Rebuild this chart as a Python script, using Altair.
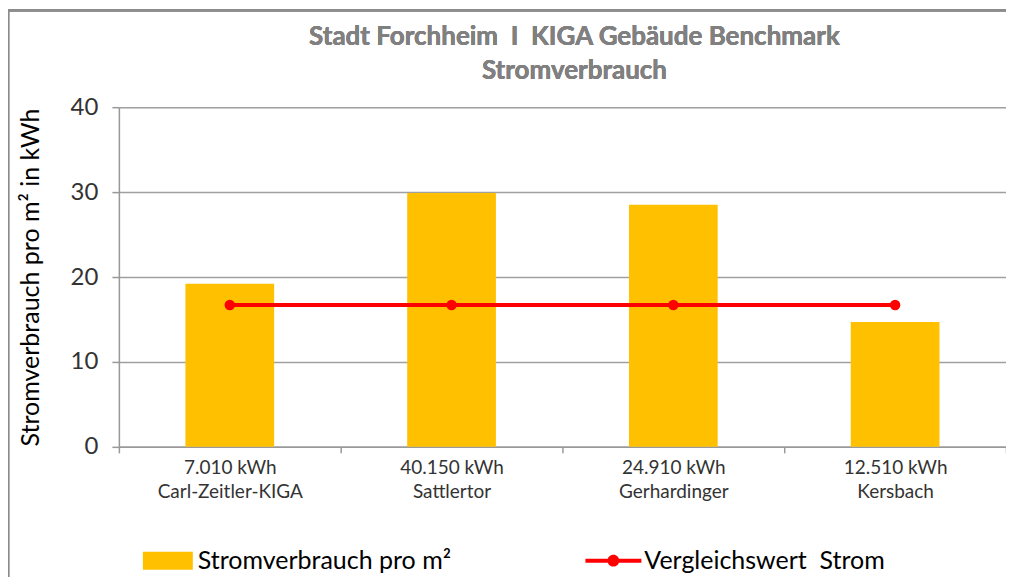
import altair as alt
import pandas as pd

categories = ["Carl-Zeitler-KIGA", "Sattlertor", "Gerhardinger", "Kersbach"]
kwh_labels = ["7.010 kWh", "40.150 kWh", "24.910 kWh", "12.510 kWh"]
verbrauch_pro_m2 = [19.2, 29.9, 28.5, 14.7]
vergleichswert = [16.7, 16.7, 16.7, 16.7]
y_ticks = [0, 10, 20, 30, 40]
title_lines = ["Stadt Forchheim\u00a0 I \u00a0KIGA Gebäude Benchmark", "Stromverbrauch"]
series_names = ["Stromverbrauch pro m²", "Vergleichswert\u00a0 Strom"]

FONT = "Lato"

df = pd.DataFrame({
    "cat": [f"{k}|{c}" for k, c in zip(kwh_labels, categories)],
    "wert": verbrauch_pro_m2,
    "vergleich": vergleichswert,
})

order = list(df["cat"])

x_enc = alt.X(
    "cat:N",
    sort=order,
    scale=alt.Scale(paddingInner=0, paddingOuter=0),
    axis=alt.Axis(
        title=None,
        labelExpr="split(datum.label, '|')",
        labelFontSize=19,
        labelLineHeight=24,
        labelColor="#333333",
        labelFont=FONT,
        labelAngle=0,
        labelPadding=6,
        tickBand="extent",
        tickSize=6,
        tickColor="#999999",
        tickWidth=1.5,
        domainColor="#999999",
        domainWidth=1.5,
        grid=False,
    ),
)

bars = alt.Chart(df).transform_calculate(
    series=f"'{series_names[0]}'"
).mark_bar(width=alt.RelativeBandSize(0.4)).encode(
    x=x_enc,
    y=alt.Y(
        "wert:Q",
        scale=alt.Scale(domain=[0, 40]),
        axis=alt.Axis(
            values=y_ticks,
            title="Stromverbrauch pro m² in kWh",
            titleFontSize=25,
            titleFontWeight="normal",
            titleColor="#000000",
            titleFont=FONT,
            titlePadding=27,
            labelFontSize=24,
            labelColor="#333333",
            labelFont=FONT,
            labelPadding=14,
            tickSize=7,
            tickColor="#999999",
            tickWidth=1.5,
            domainColor="#999999",
            domainWidth=1.5,
            gridColor="#a0a0a0",
            gridWidth=1.5,
        ),
    ),
    color=alt.Color(
        "series:N",
        scale=alt.Scale(domain=[series_names[0]], range=["#FFC000"]),
        legend=alt.Legend(
            orient="none",
            legendX=24,
            legendY=429,
            title=None,
            symbolType="M-1,-0.36L1,-0.36L1,0.36L-1,0.36Z",
            symbolSize=2500,
            symbolStrokeWidth=0,
            labelFontSize=25,
            labelFont=FONT,
            labelColor="#000000",
            labelOffset=5,
            labelLimit=0,
            padding=0,
        ),
    ),
)

line = alt.Chart(df).transform_calculate(
    series=f"'{series_names[1]}'"
).mark_line(strokeWidth=4).encode(
    x=alt.X("cat:N", sort=order),
    y=alt.Y("vergleich:Q"),
    color=alt.Color(
        "series:N",
        scale=alt.Scale(domain=[series_names[1]], range=["#FF0000"]),
        legend=alt.Legend(
            orient="none",
            legendX=467,
            legendY=426,
            title=None,
            symbolType="M-1,-0.07L1,-0.07L1,0.07L-1,0.07Z M-0.21,0A0.21,0.21 0 1,1 0.21,0A0.21,0.21 0 1,1 -0.21,0Z",
            symbolSize=3136,
            symbolFillColor="#FF0000",
            symbolStrokeWidth=0,
            labelFontSize=25,
            labelFont=FONT,
            labelColor="#000000",
            labelOffset=3,
            labelLimit=0,
            padding=0,
        ),
    ),
)

points = alt.Chart(df).mark_point(filled=True, size=110, opacity=1, color="#FF0000").encode(
    x=alt.X("cat:N", sort=order),
    y=alt.Y("vergleich:Q"),
)

title_style = dict(font=FONT, fontSize=26, fontWeight="bold", color="#808080",
                   baseline="middle", align="center")
title1 = alt.Chart(df).mark_text(**title_style).encode(
    x=alt.value(456), y=alt.value(-70), text=alt.value(title_lines[0])
)
title2 = alt.Chart(df).mark_text(**title_style).encode(
    x=alt.value(456), y=alt.value(-36), text=alt.value(title_lines[1])
)

border_left = alt.Chart(df).mark_rule(color="#8c8c8c", strokeWidth=2.5).encode(
    x=alt.value(-111), y=alt.value(-97), y2=alt.value(500)
)
border_top = alt.Chart(df).mark_rule(color="#8c8c8c", strokeWidth=2.5).encode(
    x=alt.value(-112), x2=alt.value(900), y=alt.value(-97)
)

chart = alt.layer(bars, line, points, title1, title2, border_left, border_top).resolve_scale(
    color="independent"
).properties(
    width=888,
    height=340,
    autosize=alt.AutoSizeParams(type="none"),
    padding={"left": 111, "top": 99, "right": 0, "bottom": 130},
).configure_view(stroke=None).configure(background="white")

chart.save("out.html", embed_options={"renderer": "svg", "actions": False})
